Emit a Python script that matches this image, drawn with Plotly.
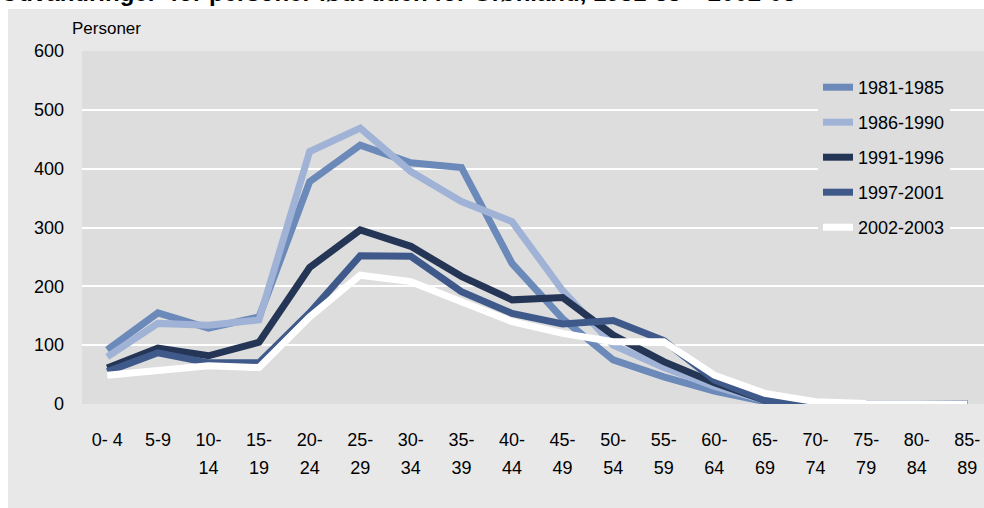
import plotly.graph_objects as go

categories = ["0-4", "5-9", "10-14", "15-19", "20-24", "25-29", "30-34", "35-39", "40-44",
              "45-49", "50-54", "55-59", "60-64", "65-69", "70-74", "75-79", "80-84", "85-89"]
tick_line1 = ["0- 4", "5-9", "10-", "15-", "20-", "25-", "30-", "35-", "40-",
              "45-", "50-", "55-", "60-", "65-", "70-", "75-", "80-", "85-"]
tick_line2 = ["", "", "14", "19", "24", "29", "34", "39", "44",
              "49", "54", "59", "64", "69", "74", "79", "84", "89"]

s1981_1985 = [92, 155, 129, 148, 378, 440, 410, 402, 239, 145, 75, 46, 22, 4, 1, 1, 1, 1]
s1986_1990 = [80, 137, 134, 143, 429, 469, 395, 344, 310, 193, 100, 62, 30, 6, 1, 1, 1, 1]
s1991_1996 = [61, 95, 82, 105, 232, 296, 268, 217, 177, 181, 117, 72, 36, 6, 1, 0, 0, 0]
s1997_2001 = [55, 87, 70, 70, 155, 252, 251, 191, 154, 136, 142, 108, 41, 6, 1, 0, 0, 0]
s2002_2003 = [49, 58, 65, 62, 148, 219, 208, 174, 140, 120, 106, 106, 49, 18, 4, 1, 0, 0]

series_names = ["1981-1985", "1986-1990", "1991-1996", "1997-2001", "2002-2003"]
series_values = [s1981_1985, s1986_1990, s1991_1996, s1997_2001, s2002_2003]
series_colors = ["#6b89b9", "#a0b3d7", "#243555", "#3f5a8a", "#ffffff"]

FONT = "Liberation Sans, Arial, sans-serif"

fig = go.Figure()
for name, vals, col in zip(series_names, series_values, series_colors):
    fig.add_trace(go.Scatter(x=categories, y=vals, name=name, mode="lines",
                             line=dict(color=col, width=7), legendgroup=name))

# helper trace so the second-line tick axis is drawn
fig.add_trace(go.Scatter(x=categories, y=[None] * len(categories), xaxis="x2",
                         showlegend=False, hoverinfo="skip", mode="lines"))

W, H = 984, 508
L, R, T, B = 82, 0, 51, 104
pw, ph = W - L - R, H - T - B

def px_x(p):  # page pixel -> paper
    return (p - L) / pw

def px_y(p):
    return (H - B - p) / ph

# white strips at top and left of the grey panel
fig.add_shape(type="rect", xref="paper", yref="paper", x0=px_x(0), x1=px_x(W),
              y0=px_y(9), y1=px_y(0), fillcolor="#ffffff", line=dict(width=0), layer="below")
fig.add_shape(type="rect", xref="paper", yref="paper", x0=px_x(0), x1=px_x(8),
              y0=px_y(H), y1=px_y(0), fillcolor="#ffffff", line=dict(width=0), layer="below")

fig.add_annotation(text="<b>Udvandringer  for personer født uden for Grønland, 1981-85 – 2002-03</b>",
                   xref="paper", yref="paper", x=px_x(-1), y=px_y(-7),
                   xanchor="left", yanchor="middle", showarrow=False,
                   font=dict(family=FONT, size=24, color="#000000"))
fig.add_annotation(text="Personer", xref="paper", yref="paper",
                   x=px_x(70), y=px_y(28), xanchor="left", yanchor="middle",
                   showarrow=False, font=dict(family=FONT, size=17, color="#000000"))

fig.update_layout(
    width=W, height=H,
    margin=dict(l=L, r=R, t=T, b=B),
    paper_bgcolor="#e8e8e8",
    plot_bgcolor="#dddddd",
    font=dict(family=FONT, size=18, color="#000000"),
    showlegend=True,
    legend=dict(x=px_x(818), y=px_y(69), xanchor="left", yanchor="top",
                bgcolor="#dddddd", traceorder="grouped", tracegroupgap=8.6,
                font=dict(family=FONT, size=18, color="#000000"),
                entrywidth=115),
    xaxis=dict(type="category", range=[-0.5, 17.33], showgrid=False, zeroline=False,
               showline=False, ticks="", tickmode="array", tickvals=categories,
               ticktext=tick_line1, ticklabelstandoff=23, tickangle=0,
               tickfont=dict(family=FONT, size=18)),
    xaxis2=dict(type="category", overlaying="x", anchor="y", side="bottom",
                range=[-0.5, 17.33], showgrid=False, zeroline=False, showline=False,
                ticks="", tickmode="array", tickvals=categories, ticktext=tick_line2,
                ticklabelstandoff=51, tickangle=0, tickfont=dict(family=FONT, size=18)),
    yaxis=dict(range=[0, 600], dtick=100, showgrid=True, gridcolor="#ffffff", gridwidth=2,
               zeroline=False, showline=False, ticks="", ticklabelstandoff=17,
               tickfont=dict(family=FONT, size=18)),
)

fig.write_html("out.html", config={"displayModeBar": False},
               post_script="document.body.style.margin='0';")
